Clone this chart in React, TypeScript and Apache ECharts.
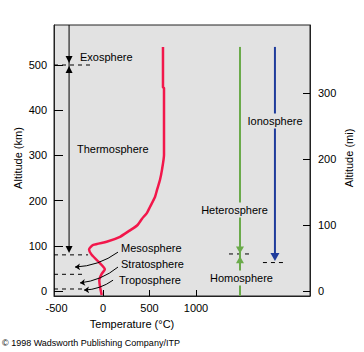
import React, { useEffect, useRef } from "react";
import * as echarts from "echarts";

// Temperature profile (°C) vs altitude (km)
const tempC = [-14, -32, -40, -14, 20, -50, -122, -150, -104, 39, 183, 280, 366, 420, 473, 505, 559, 580, 613, 634, 656, 656, 645, 645];
const altKm = [-9, 9.5, 24, 38, 48, 65, 80, 92, 102, 109, 120, 133, 145, 160, 173, 186, 208, 223, 246, 268, 301, 449, 451, 540];

const xTickLabels = [-500, 0, 500, 1000];
const xTicks = [0, 500, 1000];
const kmTicks = [0, 100, 200, 300, 400, 500];
const miTicks = [0, 100, 200, 300];

// Vertical region lines: [x (°C), top km, bottom km]
const blackLine = [-365, 588.5, 92];
const greenLine = [1473, 540, -11];
const blueLine = [1849, 540, 75];

// Boundary dashed lines: [altitude km, x from, x to]
const boundaryDashes = [
  [500, -527, -108],
  [80, -527, -161],
  [37, -527, -194],
  [4.5, -527, -226],
];
const greenDash = [82, 1355, 1602];
const blueDash = [63, 1720, 1978];

// Arrowheads: [x, km, direction (1 = down, -1 = up)]
const blackArrows = [[-365, 512, 1], [-365, 490, -1], [-365, 92, 1]];
const greenArrows = [[1473, 91, 1], [1473, 69, -1]];
const blueArrows = [[1849, 75, 1]];

// Leader lines: [[fromX, fromKm], [toX, toKm]]
const leaders = [
  [[161, 86], [-301, 53]],
  [[161, 53], [-247, 18]],
  [[108, 24], [-204, 2]],
];

const leftLabels = ["Exosphere", "Thermosphere", "Mesosphere", "Stratosphere", "Troposphere"];
const centerLabels = ["Ionosphere", "Heterosphere", "Homosphere"];

const RED = "#f2174b";
const GREEN = "#6aaa4a";
const BLUE = "#1f3c9c";
const BG = "#e2e2e2";
const FONT = "Liberation Sans, Arial, sans-serif";

export default function App() {
  const ref = useRef<HTMLDivElement>(null);
  useEffect(() => {
    document.body.style.margin = "0";
    if (!ref.current) return;
    const chart = echarts.init(ref.current, null, { renderer: "svg" });

    const dashedSeries = boundaryDashes.map((d) => ({
      type: "line",
      data: [[d[1], d[0]], [d[2], d[0]]],
      showSymbol: false,
      silent: true,
      lineStyle: { color: "#000", width: 1, type: [4, 4] },
      z: 4,
    }));

    const arrowSeries = (arr: number[][], color: string, size: number[]) => ({
      type: "scatter",
      symbol: "triangle",
      symbolSize: size,
      data: arr.map((a) => ({ value: [a[0], a[1]], symbolRotate: a[2] === 1 ? 180 : 0 })),
      itemStyle: { color, opacity: 1 },
      silent: true,
      z: 6,
    });

    const leftPos = [[80, 57], [77, 149], [121, 248], [121, 264], [119, 280]];
    const centerPos = [[275, 121], [234.5, 210], [241.5, 278]];
    const fmt = (v: number) => String(v);

    chart.setOption({
      animation: false,
      grid: {
        left: 54,
        top: 25,
        width: 256,
        height: 271,
        show: true,
        backgroundColor: BG,
        borderColor: "#222",
        borderWidth: 1,
      },
      xAxis: {
        type: "value",
        min: -527,
        max: 2226,
        splitLine: { show: false },
        axisLine: { show: true, onZero: false, lineStyle: { color: "#222" } },
        axisTick: { show: true, inside: true, length: 6, customValues: xTicks, lineStyle: { color: "#000" } },
        axisLabel: { customValues: xTickLabels, formatter: fmt, margin: 6, fontSize: 11, color: "#000", fontFamily: FONT },
      },
      yAxis: [
        {
          type: "value",
          min: -11,
          max: 588.5,
          splitLine: { show: false },
          axisLine: { show: true, onZero: false, lineStyle: { color: "#222" } },
          axisTick: { show: true, inside: true, length: 9, customValues: kmTicks, lineStyle: { color: "#000" } },
          axisLabel: { customValues: kmTicks, formatter: fmt, margin: 7, fontSize: 11, color: "#000", fontFamily: FONT },
        },
        {
          type: "value",
          position: "right",
          min: -7.58,
          max: 403,
          splitLine: { show: false },
          axisLine: { show: true, onZero: false, lineStyle: { color: "#222" } },
          axisTick: { show: true, inside: true, length: 7, customValues: miTicks, lineStyle: { color: "#000" } },
          axisLabel: { customValues: miTicks, formatter: fmt, margin: 8, fontSize: 11, color: "#000", fontFamily: FONT },
        },
      ],
      series: [
        {
          type: "line",
          data: tempC.map((t, i) => [t, altKm[i]]),
          showSymbol: false,
          silent: true,
          smooth: 0.2,
          lineStyle: { color: RED, width: 2.5 },
          z: 5,
        },
        {
          type: "line",
          data: [[blackLine[0], blackLine[1]], [blackLine[0], blackLine[2]]],
          showSymbol: false,
          silent: true,
          lineStyle: { color: "#000", width: 1 },
          z: 4,
        },
        {
          type: "line",
          data: [[greenLine[0], greenLine[1]], [greenLine[0], greenLine[2]]],
          showSymbol: false,
          silent: true,
          lineStyle: { color: GREEN, width: 2 },
          z: 4,
        },
        {
          type: "line",
          data: [[blueLine[0], blueLine[1]], [blueLine[0], blueLine[2]]],
          showSymbol: false,
          silent: true,
          lineStyle: { color: BLUE, width: 2 },
          z: 4,
        },
        ...dashedSeries,
        {
          type: "line",
          data: [[greenDash[1], greenDash[0]], [greenDash[2], greenDash[0]]],
          showSymbol: false,
          silent: true,
          lineStyle: { color: "#000", width: 1, type: [4, 4] },
          z: 3,
        },
        {
          type: "line",
          data: [[blueDash[1], blueDash[0]], [blueDash[2], blueDash[0]]],
          showSymbol: false,
          silent: true,
          lineStyle: { color: "#000", width: 1, type: [4, 4] },
          z: 3,
        },
        arrowSeries(blackArrows, "#000", [7, 7]),
        arrowSeries(greenArrows, GREEN, [8, 7]),
        arrowSeries(blueArrows, BLUE, [9, 8]),
        {
          type: "lines",
          coordinateSystem: "cartesian2d",
          silent: true,
          symbol: ["none", "arrow"],
          symbolSize: 5,
          data: leaders.map((l) => ({ coords: l })),
          lineStyle: { color: "#000", width: 1, curveness: 0.15, opacity: 1 },
          z: 6,
        },
      ],
      graphic: [
        ...leftLabels.map((t, i) => ({
          type: "text",
          x: leftPos[i][0],
          y: leftPos[i][1],
          z: 100,
          style: { text: t, fontSize: 11, fontFamily: FONT, fill: "#000", align: "left", verticalAlign: "middle" },
        })),
        ...centerLabels.map((t, i) => ({
          type: "text",
          x: centerPos[i][0],
          y: centerPos[i][1],
          z: 100,
          style: {
            text: t,
            fontSize: 11,
            fontFamily: FONT,
            fill: "#000",
            align: "center",
            verticalAlign: "middle",
            backgroundColor: BG,
            padding: [2, 1, 2, 1],
          },
        })),
        {
          type: "text",
          x: 18,
          y: 158,
          rotation: Math.PI / 2,
          z: 100,
          style: { text: "Altitude (km)", fontSize: 11, fontFamily: FONT, fill: "#000", align: "center", verticalAlign: "middle" },
        },
        {
          type: "text",
          x: 349,
          y: 158,
          rotation: Math.PI / 2,
          z: 100,
          style: { text: "Altitude (mi)", fontSize: 11, fontFamily: FONT, fill: "#000", align: "center", verticalAlign: "middle" },
        },
        {
          type: "text",
          x: 132,
          y: 324,
          z: 100,
          style: { text: "Temperature (°C)", fontSize: 11, fontFamily: FONT, fill: "#000", align: "center", verticalAlign: "middle" },
        },
        {
          type: "text",
          x: 2,
          y: 343,
          z: 100,
          style: { text: "© 1998 Wadsworth Publishing Company/ITP", fontSize: 9, fontFamily: FONT, fill: "#000", align: "left", verticalAlign: "middle" },
        },
      ],
    });
    return () => chart.dispose();
  }, []);
  return <div ref={ref} style={{ width: 364, height: 352 }} />;
}
